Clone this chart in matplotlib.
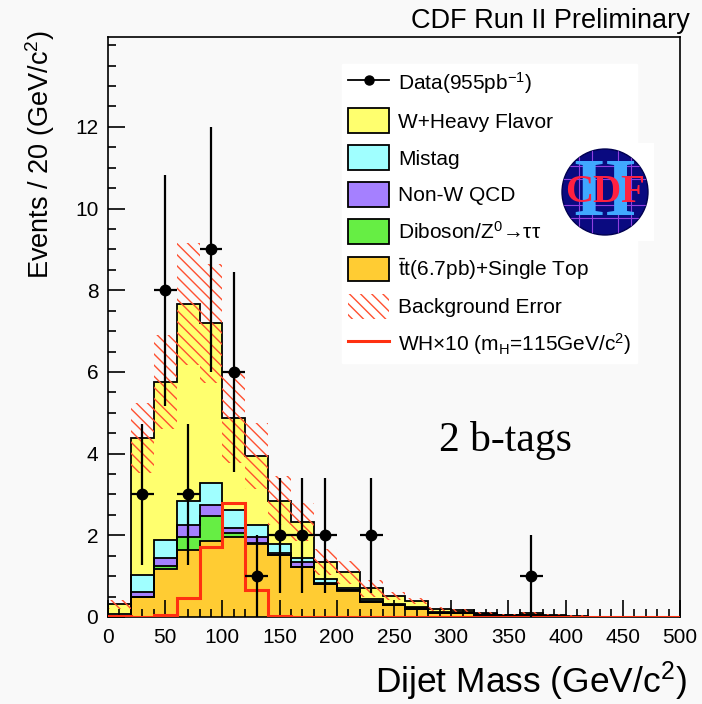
import numpy as np
import matplotlib
matplotlib.use("Agg")
import matplotlib.pyplot as plt
from matplotlib.patches import Patch, Circle, Rectangle
from matplotlib.lines import Line2D

plt.rcParams['font.family'] = ['Liberation Sans', 'DejaVu Sans']
plt.rcParams['mathtext.fontset'] = 'custom'
plt.rcParams['mathtext.rm'] = 'Liberation Sans'
plt.rcParams['mathtext.it'] = 'Liberation Sans:italic'
plt.rcParams['mathtext.bf'] = 'Liberation Sans:bold'
plt.rcParams['hatch.linewidth'] = 1.0

# 20 GeV bins from 0 to 500
edges = np.arange(0, 520, 20)

# stacked backgrounds, bottom to top
ttbar   = [0.02, 0.48, 1.18, 1.65, 1.86, 1.96, 1.79, 1.52, 1.22, 0.81, 0.64, 0.37, 0.29,
           0.20, 0.09, 0.10, 0.06, 0.04, 0.05, 0.03, 0.01, 0.0, 0.0, 0.0, 0.0]
diboson = [0.00, 0.01, 0.07, 0.32, 0.61, 0.09, 0.02, 0.01, 0.01, 0.01, 0.01, 0.0, 0.0,
           0.0, 0.0, 0.0, 0.0, 0.0, 0.0, 0.0, 0.0, 0.0, 0.0, 0.0, 0.0]
nonw    = [0.01, 0.11, 0.19, 0.29, 0.28, 0.13, 0.15, 0.03, 0.11, 0.01, 0.01, 0.01, 0.01,
           0.01, 0.01, 0.0, 0.0, 0.0, 0.0, 0.0, 0.0, 0.0, 0.0, 0.0, 0.0]
mistag  = [0.05, 0.43, 0.45, 0.58, 0.53, 0.43, 0.30, 0.22, 0.11, 0.09, 0.05, 0.07, 0.03,
           0.03, 0.02, 0.02, 0.01, 0.01, 0.01, 0.0, 0.0, 0.0, 0.0, 0.0, 0.0]
whf     = [0.23, 3.35, 3.86, 4.82, 3.91, 2.27, 1.68, 1.07, 0.87, 0.43, 0.38, 0.25, 0.18,
           0.15, 0.08, 0.04, 0.03, 0.01, 0.04, 0.03, 0.02, 0.01, 0.0, 0.0, 0.0]
bkg_err = [0.11, 0.85, 1.15, 1.50, 1.45, 1.10, 0.80, 0.60, 0.47, 0.32, 0.27, 0.20, 0.10,
           0.08, 0.05, 0.04, 0.03, 0.02, 0.03, 0.02, 0.01, 0.0, 0.0, 0.0, 0.0]
wh_x10  = [0.02, 0.0, 0.06, 0.46, 1.71, 2.79, 0.65, 0.03, 0.0, 0.0, 0.0, 0.0, 0.0,
           0.0, 0.0, 0.0, 0.0, 0.0, 0.0, 0.0, 0.0, 0.0, 0.0, 0.0, 0.0]

data_x = [30, 50, 70, 90, 110, 130, 150, 170, 190, 230, 370]
data_y = [3, 8, 3, 9, 6, 1, 2, 2, 2, 2, 1]

layers = [ttbar, diboson, nonw, mistag, whf]
colors = ['#ffcc33', '#66ee44', '#a580ff', '#a0ffff', '#ffff6e']
labels = ['$\\mathrm{\\bar{t}}$t(6.7pb)+Single Top', 'Diboson/Z$^0$\u2192\u03c4\u03c4',
          'Non-W QCD', 'Mistag', 'W+Heavy Flavor']
red = '#ff3010'
hatch_red = '#ff5030'
bg = '#f9f9f9'

fig = plt.figure(figsize=(7.02, 7.04), dpi=100, facecolor=bg)
ax = fig.add_axes([108/702, 1-617/704, 572/702, 580/704], facecolor=bg)

cum = np.cumsum(np.array(layers), axis=0)
base = np.zeros(len(ttbar))
for top, c in zip(cum, colors):
    ax.stairs(top, edges, baseline=base, fill=True, facecolor=c, edgecolor='none', zorder=1)
    base = top
for top in cum:
    ax.stairs(top, edges, color='black', lw=1.3, zorder=1.2)

total = cum[-1]
err = np.array(bkg_err)
ax.stairs(total + err, edges, baseline=total - err, fill=True, facecolor='none',
          edgecolor=hatch_red, hatch='\\\\\\', lw=0, zorder=1.5)

ax.stairs(wh_x10, edges, color=red, lw=2.2, zorder=3)

ax.errorbar(data_x, data_y, xerr=10, yerr=np.sqrt(data_y), fmt='o', color='black',
            ms=7.5, lw=1.6, capsize=0, zorder=4)

ax.set_xlim(0, 500)
ax.set_ylim(0, 14.2)
ax.set_axisbelow(False)
ax.set_xticks(np.arange(0, 501, 50))
ax.set_xticks(np.arange(0, 501, 10), minor=True)
ax.set_yticks(np.arange(0, 13, 2))
ax.set_yticks(np.arange(0, 14.1, 0.5), minor=True)
ax.tick_params(which='both', direction='in', labelsize=15, width=1.2)
ax.tick_params(which='major', length=12)
ax.tick_params(which='minor', length=6)
ax.tick_params(axis='x', pad=8)
ax.tick_params(axis='y', pad=7)
for s in ax.spines.values():
    s.set_linewidth(1.2)

ax.set_xlabel('Dijet Mass (GeV/c$^2$)', fontsize=25.5, loc='right')
ax.xaxis.set_label_coords(1.0125, -0.074)
ax.set_ylabel('Events / 20 (GeV/c$^2$)', fontsize=19.5, loc='top')
ax.yaxis.set_label_coords(-0.09, 1.012)

fig.text(690/702, 1-21/704, 'CDF Run II Preliminary', fontsize=19.5, ha='right', va='center')
ax.text(347, 4.33, '2 b-tags', family=['Liberation Serif', 'DejaVu Serif'], fontsize=30,
        ha='center', va='center')

handles = [Line2D([], [], color='black', marker='o', ms=6.5, lw=1.3)]
names = ['Data(955pb$^{-1}$)']
for c, l in zip(colors[::-1], labels[::-1]):
    handles.append(Patch(facecolor=c, edgecolor='black', lw=1.3))
    names.append(l)
handles.append(Patch(facecolor='none', edgecolor=hatch_red, hatch='\\\\\\', lw=0))
names.append('Background Error')
handles.append(Line2D([], [], color=red, lw=2.2))
names.append('WH$\\times$10 (m$_\\mathrm{H}$=115GeV/c$^2$)')

leg = ax.legend(handles, names, loc='upper left', bbox_to_anchor=(342/702, 1-64/704),
                bbox_transform=fig.transFigure, borderaxespad=0, borderpad=0.3,
                fontsize=15, handlelength=1.97, handleheight=1.45, handletextpad=0.42,
                labelspacing=0.585, frameon=True, fancybox=False, framealpha=1)
leg.get_frame().set_facecolor('white')
leg.get_frame().set_edgecolor('white')

# CDF logo
logo = fig.add_axes([556/702, 1-241/704, 98/702, 98/704])
logo.set_xlim(-1.14, 1.14)
logo.set_ylim(-1.14, 1.14)
logo.set_aspect('equal')
logo.axis('off')
logo.add_patch(Rectangle((-1.14, -1.14), 2.28, 2.28, facecolor='white', edgecolor='none'))
disc = Circle((0, 0), 1.0, facecolor='#0a0a80', edgecolor='#000050', lw=1)
logo.add_patch(disc)
for yy in [-0.6, -0.3, 0.3, 0.6]:
    ln, = logo.plot([-1, 1], [yy, yy], color='#9040e0', lw=0.8)
    ln.set_clip_path(disc)
for xx in [-0.6, -0.3, 0.3, 0.6]:
    ln, = logo.plot([xx, xx], [-1, 1], color='#9040e0', lw=0.8)
    ln.set_clip_path(disc)
logo.text(0, -0.08, 'II', family=['Liberation Serif', 'DejaVu Serif'], fontsize=60,
          color='#40a8ff', ha='center', va='center', fontweight='bold')
logo.text(0, 0.0, 'CDF', family=['Liberation Serif', 'DejaVu Serif'], fontsize=28,
          color='#ff2040', ha='center', va='center', fontweight='bold')

fig.savefig('out.png', dpi=100, facecolor=bg)
